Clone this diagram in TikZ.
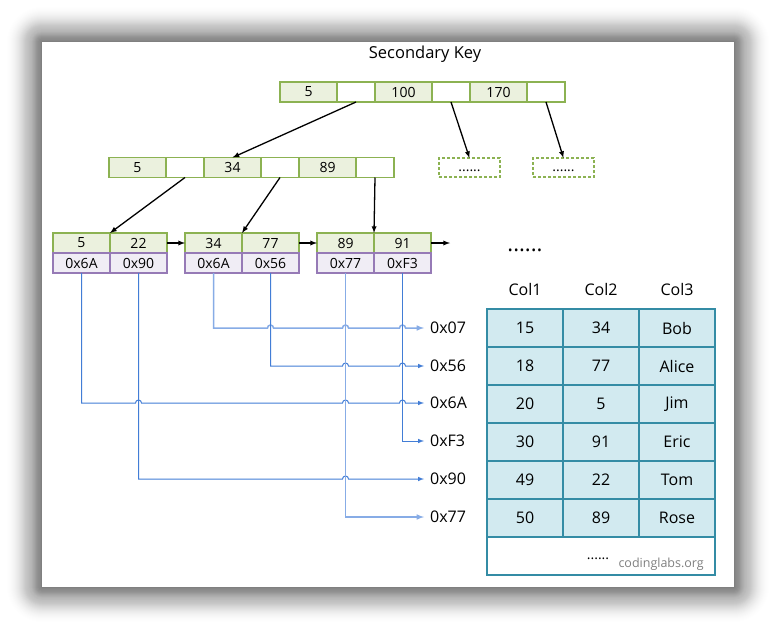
\documentclass[tikz,border=0pt]{standalone}
\usepackage{fontspec}
\setmainfont{Open Sans}
\usetikzlibrary{arrows,positioning}

\definecolor{keyline}{RGB}{140,178,82}
\definecolor{keyfill}{RGB}{235,241,222}
\definecolor{addrline}{RGB}{150,122,182}
\definecolor{addrfill}{RGB}{240,237,245}
\definecolor{rowline}{RGB}{52,140,165}
\definecolor{rowfill}{RGB}{210,234,240}
\definecolor{linkblue}{RGB}{66,125,214}
\definecolor{linkpale}{RGB}{135,172,230}

\tikzset{
  cell/.style={draw=keyline, line width=1.5pt, minimum height=20pt, inner sep=0pt, outer sep=0pt, font=\fontsize{14}{16}\selectfont},
  key/.style={cell, fill=keyfill, minimum width=57pt},
  ptr/.style={cell, fill=white, minimum width=38pt},
  addr/.style={cell, draw=addrline, fill=addrfill, minimum width=57pt},
  ghost/.style={cell, densely dashed, minimum width=61pt, minimum height=19pt, text height=8pt, text depth=0pt},
  tcell/.style={draw=rowline, fill=rowfill, line width=1.5pt, minimum width=76pt, minimum height=38pt, inner sep=0pt, outer sep=0pt, font=\fontsize{16}{18}\selectfont},
  head/.style={font=\fontsize{16}{18}\selectfont},
  rid/.style={anchor=west, inner xsep=6pt, inner ysep=0pt, font=\fontsize{16}{18}\selectfont},
  treeedge/.style={->, line width=1.3pt},
  link/.style={->, draw=linkblue, line width=1pt},
  palelink/.style={->, draw=linkpale, line width=1.5pt}
}

\begin{document}
\begin{tikzpicture}[x=1pt, y=-1pt, >=latex]
\useasboundingbox (0,0) rectangle (776,629);
% card
\foreach \i [evaluate=\i as \op using 0.001*(37-\i)] in {1,...,36}
  \fill[black, opacity=\op, rounded corners=\i pt] (42-\i,42-\i) rectangle (734+\i,587+\i);
\fill[white] (42,42) rectangle (734,587);

\node[anchor=base, font=\fontsize{16.5}{18}\selectfont] (title) at (425,58) {Secondary Key};

% root
\node[key] (r1) at (308.5,92) {5};
\node[ptr, right=0pt of r1] (r2) {};
\node[key, right=0pt of r2] (r3) {100};
\node[ptr, right=0pt of r3] (r4) {};
\node[key, right=0pt of r4] (r5) {170};
\node[ptr, right=0pt of r5] (r6) {};

\node[ghost] (d1) at (469.5,167.5) {......};
\node[ghost] (d2) at (563.5,167.5) {......};

% level 2
\node[key] (m1) at (137.5,167.5) {5};
\node[ptr, right=0pt of m1] (m2) {};
\node[key, right=0pt of m2] (m3) {34};
\node[ptr, right=0pt of m3] (m4) {};
\node[key, right=0pt of m4] (m5) {89};
\node[ptr, right=0pt of m5] (m6) {};

% leaves
\node[key] (a1) at (81.5,243) {5};
\node[key, right=0pt of a1] (a2) {22};
\node[addr, below=0pt of a1] (pa1) {0x6A};
\node[addr, below=0pt of a2] (pa2) {0x90};
\node[key] (b1) at (213.5,243) {34};
\node[key, right=0pt of b1] (b2) {77};
\node[addr, below=0pt of b1] (pb1) {0x6A};
\node[addr, below=0pt of b2] (pb2) {0x56};
\node[key] (c1) at (345.5,243) {89};
\node[key, right=0pt of c1] (c2) {91};
\node[addr, below=0pt of c1] (pc1) {0x77};
\node[addr, below=0pt of c2] (pc2) {0xF3};
\coordinate (tail) at (450,243);
\node[anchor=base, font=\fontsize{22}{24}\selectfont] (etc) at (525,251) {......};

\draw[treeedge] (r2.south) -- (m3.north);
\draw[treeedge] (r4.south) -- (d1.north);
\draw[treeedge] (r6.south) -- (d2.north);
\draw[treeedge] (m2.south) -- (a1.north east);
\draw[treeedge] (m4.south) -- (b1.north east);
\draw[treeedge] (m6.south) -- (c1.north east);
\draw[treeedge] (a2.east) -- (b1.west);
\draw[treeedge] (b2.east) -- (c1.west);
\draw[treeedge] (c2.east) -- (tail);

% row ids
\foreach \t/\y in {07/328, 56/366, 6A/403, F3/441, 90/479, 77/517}
  \node[rid] (t\t) at (424,\y) {0x\t};

\draw[link] (pa1.south) -- (pa1.south |- t6A.west) \foreach \h in {138.5,345.5,402.5} {-- (\h-3,403) arc[start angle=180, end angle=0, radius=3pt]} -- (t6A.west);
\draw[link] (pa2.south) -- (pa2.south |- t90.west) \foreach \h in {345.5} {-- (\h-3,479) arc[start angle=180, end angle=0, radius=3pt]} -- (t90.west);
\draw[palelink] (pb1.south) -- (pb1.south |- t07.west) \foreach \h in {270.5,345.5,402.5} {-- (\h-3,328) arc[start angle=180, end angle=0, radius=3pt]} -- (t07.west);
\draw[link] (pb2.south) -- (pb2.south |- t56.west) \foreach \h in {345.5,402.5} {-- (\h-3,366) arc[start angle=180, end angle=0, radius=3pt]} -- (t56.west);
\draw[palelink] (pc1.south) |- (t77.west);
\draw[link] (pc2.south) |- (tF3.west);

% table
\foreach \h [count=\i] in {Col1,Col2,Col3}
  \node[head] (h\i) at (449+76*\i,289) {\h};
\foreach \a/\b/\c [count=\i] in {15/34/Bob, 18/77/Alice, 20/5/Jim, 30/91/Eric, 49/22/Tom, 50/89/Rose} {
  \node[tcell] (x\i) at (525,290+38*\i) {\a};
  \node[tcell, right=0pt of x\i] (y\i) {\b};
  \node[tcell, right=0pt of y\i] (z\i) {\c};
}
\node[tcell, fill=white, minimum width=228pt, below=0pt of y6] (rest) {};
\node[anchor=base, font=\fontsize{14}{16}\selectfont] (more) at (598,559) {......};
\node[anchor=base east, inner sep=0pt, text=gray, font=\fontsize{12.5}{14}\selectfont] (site) at (704,567) {codinglabs.org};
\end{tikzpicture}
\end{document}
